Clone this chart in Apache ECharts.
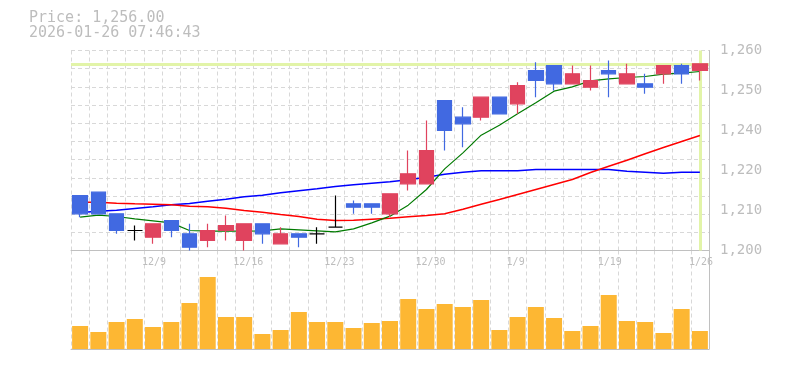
<!DOCTYPE html>
<html>
<head>
<meta charset="utf-8">
<script src="https://cdn.jsdelivr.net/npm/echarts@6/dist/echarts.min.js"></script>
<style>html,body{margin:0;padding:0;background:#fff}#c{width:785px;height:370px}</style>
</head>
<body>
<div id="c"></div>
<script>
const categories = ['12/3','12/4','12/5','12/8','12/9','12/10','12/11','12/12','12/15','12/16','12/17','12/18','12/19','12/22','12/23','12/24','12/25','12/26','12/29','12/30','1/5','1/6','1/7','1/8','1/9','1/13','1/14','1/15','1/16','1/19','1/20','1/21','1/22','1/23','1/26'];
const openP  = [1216.5,1217.5,1211,1206,1204,1209,1205,1203,1206,1203,1208,1202,1205,1205,1207,1214,1214,1211,1220,1220,1245,1240,1240,1246,1244,1254,1255.5,1250,1249,1254,1250,1250,1253,1255.5,1254];
const highP  = [1216.5,1217.5,1211,1207.5,1208,1209,1208,1208,1210.5,1208,1208,1207,1205,1207,1216.5,1215,1214,1217,1230,1239,1245,1243,1246,1246,1250.5,1256.5,1255.5,1255.5,1255.5,1257,1256,1253,1255.5,1256,1256];
const lowP   = [1210,1211,1205,1203,1202,1204,1200,1201,1203,1200,1202,1202,1201,1202,1207,1211,1211,1210,1218,1220,1230,1231,1239,1241,1241,1246,1248,1250,1248,1246,1250,1247,1250,1250,1251];
const closeP = [1211,1211,1206,1206,1208,1206,1201,1206,1207.5,1208,1205,1205,1204,1205,1207,1213,1213,1217,1223,1230,1236,1238,1246,1241,1249.5,1251,1250,1253,1251,1253,1253,1249,1255.5,1253,1256];
const maShort = [1210.0,1210.6,1210.2,1209.5,1208.9,1208.3,1206.0,1205.8,1205.8,1205.8,1205.9,1206.5,1206.2,1205.9,1205.6,1206.5,1208.3,1210.3,1213.6,1218.3,1224.5,1229.3,1234.6,1237.6,1241.0,1244.3,1247.8,1249.1,1250.9,1251.5,1251.9,1252.2,1252.9,1253.2,1253.7];
const maMid = [1214.5,1214.5,1214.2,1214.0,1213.9,1213.7,1213.3,1213.1,1212.7,1212.0,1211.5,1210.8,1210.2,1209.4,1209.0,1209.1,1209.4,1209.7,1210.1,1210.5,1211.0,1212.4,1213.9,1215.3,1216.8,1218.3,1219.8,1221.3,1223.4,1225.3,1227.1,1229.0,1230.9,1232.7,1234.5];
const maLong = [1211.4,1211.8,1212.1,1212.6,1213.1,1213.7,1214.1,1214.8,1215.4,1216.1,1216.6,1217.3,1217.9,1218.5,1219.2,1219.7,1220.2,1220.6,1221.2,1222.0,1222.9,1223.5,1223.9,1223.9,1223.9,1224.3,1224.3,1224.3,1224.3,1224.3,1223.8,1223.5,1223.2,1223.5,1223.5];
const volume = [23,17,27,30,22,27,46,72,32,32,15,19,37,27,27,21,26,28,50,40,45,42,49,19,32,42,31,18,23,54,28,27,16,40,18];
const priceTicks = [1200,1212,1224,1236,1248,1260];
const lastPrice = 1256;
const timeStamp = '2026-01-26 07:46:43';

const MONO = 'DejaVu Sans Mono';
const GRAY = '#bdbdbd';
const GRIDC = '#d8d8d8';
const AXISC = '#c0c0c0';

const candleData = categories.map((c, i) => [openP[i], closeP[i], lowP[i], highP[i]]);
const fmtNum = v => Math.round(v).toLocaleString('en-US');

const chart = echarts.init(document.getElementById('c'), null, {renderer: 'canvas'});
chart.setOption({
  animation: false,
  backgroundColor: '#fff',
  title: {
    text: 'Price: ' + lastPrice.toLocaleString('en-US', {minimumFractionDigits: 2, maximumFractionDigits: 2}) + '\n' + timeStamp,
    left: 29, top: 11, padding: 0,
    textStyle: {fontFamily: MONO, fontSize: 15, fontWeight: 'normal', color: GRAY, lineHeight: 15}
  },
  grid: [
    {left: 71, width: 638, top: 50.5, height: 200},
    {left: 71, width: 638, top: 250.5, height: 98.5}
  ],
  xAxis: [
    {type: 'category', gridIndex: 0, data: categories, boundaryGap: true,
     axisLine: {show: true, lineStyle: {color: AXISC, width: 1}},
     axisTick: {show: false, interval: 0},
     axisLabel: {interval: (idx) => idx % 5 === 4, margin: 7, color: GRAY, fontFamily: MONO, fontSize: 10,
       formatter: v => '{a|' + v + '}',
       rich: {a: {width: 22, align: 'left', fontFamily: MONO, fontSize: 10, color: GRAY}}},
     splitLine: {show: true, interval: 0, lineStyle: {color: GRIDC, type: [4, 3], width: 1}}},
    {type: 'category', gridIndex: 1, data: categories, boundaryGap: true,
     axisLine: {show: true, lineStyle: {color: AXISC, width: 1}},
     axisTick: {show: false, interval: 0}, axisLabel: {show: false},
     splitLine: {show: true, interval: 0, lineStyle: {color: GRIDC, type: [4, 3], width: 1}}}
  ],
  yAxis: [
    {type: 'value', gridIndex: 0, position: 'right', min: priceTicks[0], max: priceTicks[priceTicks.length - 1], interval: priceTicks[1] - priceTicks[0],
     axisLine: {show: true, lineStyle: {color: AXISC}}, axisTick: {show: false},
     axisLabel: {margin: 11, color: GRAY, fontFamily: MONO, fontSize: 14, padding: [4, 0, 0, 0], formatter: v => fmtNum(Math.round(v / 10) * 10)},
     splitLine: {show: false}},
    {type: 'value', gridIndex: 0, position: 'left', min: 0, max: 11, interval: 1,
     axisLine: {show: false}, axisTick: {show: false}, axisLabel: {show: false},
     splitLine: {show: true, lineStyle: {color: GRIDC, type: [4, 3], width: 1}}},
    {type: 'value', gridIndex: 1, position: 'right', min: 0, max: 98.5,
     axisLine: {show: true, lineStyle: {color: AXISC}}, axisTick: {show: false}, axisLabel: {show: false},
     splitLine: {show: false}}
  ],
  series: [
    {type: 'line', xAxisIndex: 0, yAxisIndex: 0, data: maLong, symbol: 'none', z: 2,
     lineStyle: {color: '#0000ff', width: 1.5}},
    {type: 'line', xAxisIndex: 0, yAxisIndex: 0, data: maMid, symbol: 'none', z: 2,
     lineStyle: {color: '#ff0000', width: 1.5}},
    {type: 'line', xAxisIndex: 0, yAxisIndex: 0, data: maShort, symbol: 'none', z: 2,
     lineStyle: {color: '#007a00', width: 1.2}},
    {type: 'candlestick', xAxisIndex: 0, yAxisIndex: 0, data: candleData, barWidth: 15, z: 3,
     itemStyle: {color: '#e0435e', color0: '#4169e1', borderColor: '#e0435e', borderColor0: '#4169e1', borderColorDoji: '#000000', borderWidth: 1.2},
     markLine: {silent: true, symbol: ['none', 'none'], z: 1, animation: false,
       label: {show: false}, emphasis: {disabled: true},
       lineStyle: {color: '#e2f4a8', width: 3, type: 'solid'},
       data: [{yAxis: lastPrice}, {xAxis: categories[categories.length - 1]}]}},
    {type: 'bar', xAxisIndex: 1, yAxisIndex: 2, data: volume, barWidth: 16,
     itemStyle: {color: '#fdb733'}}
  ]
});
</script>
</body>
</html>
